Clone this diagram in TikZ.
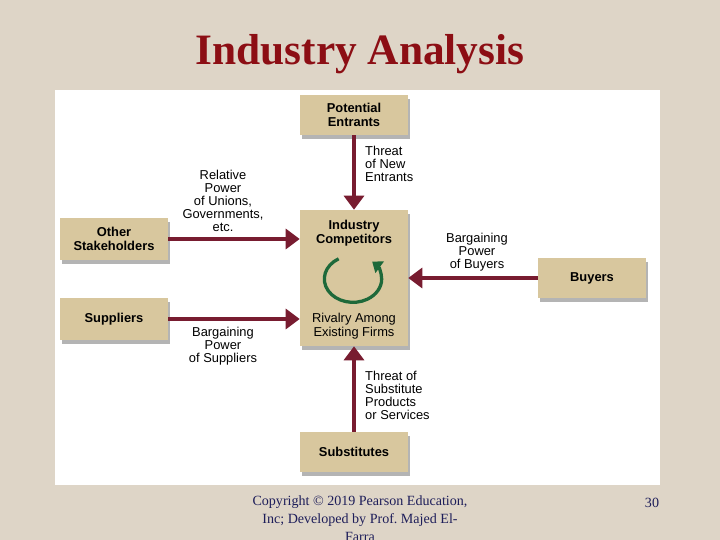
\documentclass[tikz,border=0pt]{standalone}
\usepackage{fontspec}
\setmainfont{Liberation Serif}
\setsansfont{Liberation Sans}
\usetikzlibrary{arrows.meta,shadows,positioning}

\definecolor{slidebg}{RGB}{222,213,199}
\definecolor{boxtan}{RGB}{216,199,158}
\definecolor{forcered}{RGB}{120,28,48}
\definecolor{titlered}{RGB}{140,14,20}
\definecolor{spingreen}{RGB}{30,105,58}
\definecolor{footblue}{RGB}{30,30,90}

\begin{document}
\frenchspacing
\begin{tikzpicture}[
  x=0.03cm,y=-0.03cm,
  force/.style={
    rectangle,fill=boxtan,draw=none,minimum width=3.24cm,minimum height=1.2cm,
    inner sep=0pt,align=center,font=\sffamily\bfseries\fontsize{11}{12.5}\selectfont,
    drop shadow={shadow xshift=2pt,shadow yshift=-3pt,opacity=.45,fill=black!65}
  },
  push/.style={
    -{Triangle[width=17pt,length=12pt]},draw=forcered,line width=3.4pt
  },
  note/.style={font=\sffamily\fontsize{11}{11}\selectfont,inner sep=0pt,align=center},
  boxtext/.style={note,text=black},
  footer/.style={font=\fontsize{12}{15}\selectfont,text=footblue,inner sep=0pt,align=center},
  % slide title in dark red serif
  slidetitle/.style={font=\bfseries\fontsize{37}{37}\selectfont,text=titlered,inner sep=0pt}
]
  \clip (0,0) rectangle (720,540);
  \fill[slidebg] (0,0) rectangle (720,540);
  \fill[white] (55,90) rectangle (660,485);

  \node[slidetitle] (title) at (360,54) {Industry Analysis};

  % the five forces
  \node[force] (entrants) at (354,115) {Potential\\Entrants};
  \node[force,minimum height=1.26cm] (others) at (114,239) {Other\\Stakeholders};
  \node[force,minimum height=1.26cm] (suppliers) at (114,319) {Suppliers};
  \node[force,minimum height=4.08cm] (rivals) at (354,278) {};
  \node[force] (buyers) at (592,278) {Buyers};
  \node[force] (subst) at (354,452) {Substitutes};

  \node[boxtext,font=\sffamily\bfseries\fontsize{11}{12.5}\selectfont] (rivalhead) at (354,233) {Industry\\Competitors};
  \node[boxtext,font=\sffamily\fontsize{11}{12.5}\selectfont] (rivalry) at (354,326) {Rivalry Among\\Existing Firms};
  \coordinate (spin) at (353,279);
  \draw[spingreen,line width=2.8pt,-{Triangle[width=12pt,length=8pt]}]
    ([shift={(120:0.86cm and 0.7cm)}]spin)
    arc[start angle=120,end angle=408,x radius=0.86cm,y radius=0.7cm];

  \draw[push] (entrants) -- (rivals);
  \draw[push] (others) -- (others -| rivals.west);
  \draw[push] (suppliers) -- (suppliers -| rivals.west);
  \draw[push] (buyers) -- (rivals);
  \draw[push] (subst) -- (rivals);

  \node[note,align=left,anchor=north west] (newlab) at (365,146) {Threat\\of New\\Entrants};
  \node[note,anchor=north] (unionlab) at (223,170) {Relative\\Power\\of Unions,\\Governments,\\etc.};
  \node[note,anchor=north] (supplab) at (223,327) {Bargaining\\Power\\of Suppliers};
  \node[note,anchor=north] (buylab) at (477,233) {Bargaining\\Power\\of Buyers};
  \node[note,align=left,anchor=north west] (sublab) at (365,371) {Threat of\\Substitute\\Products\\or Services};

  \node[footer,anchor=north] (copy) at (360,496) {Copyright \textcopyright{} 2019 Pearson Education,\\Inc; Developed by Prof. Majed El-\\Farra};
  \node[footer] (pagenum) at (652,503) {30};
\end{tikzpicture}
\end{document}
